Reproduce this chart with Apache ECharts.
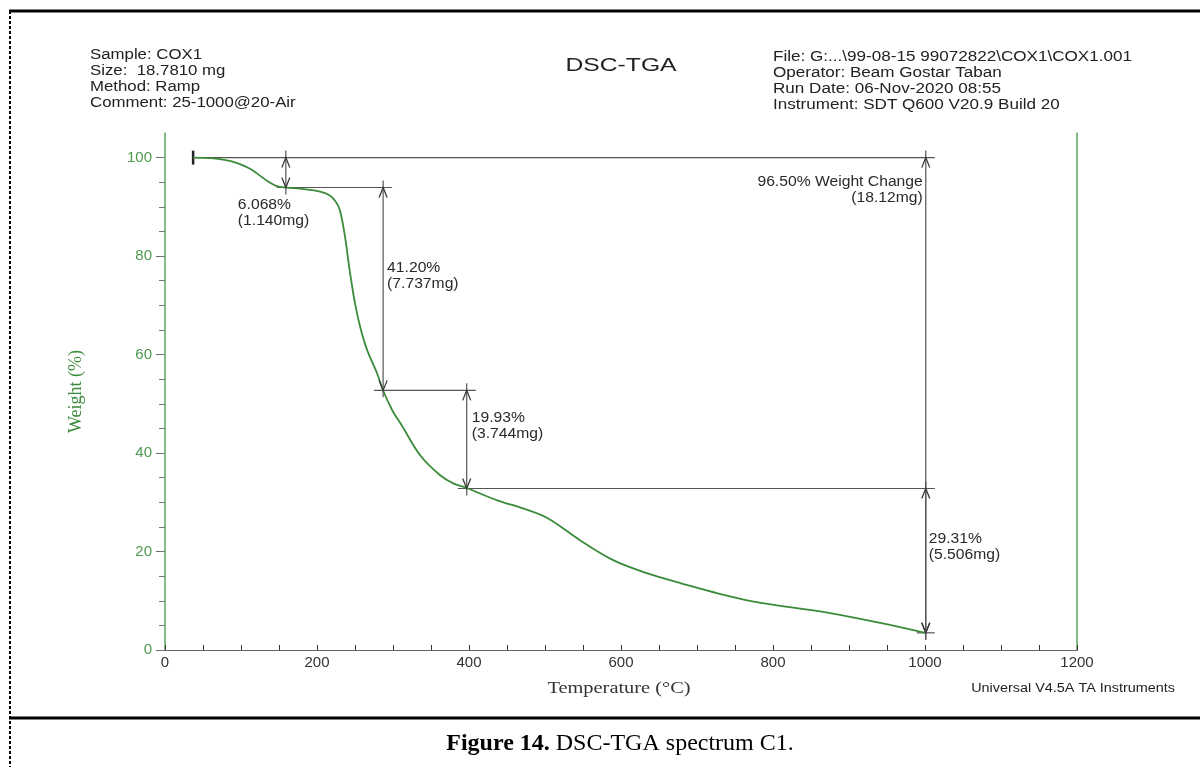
<!DOCTYPE html>
<html>
<head>
<meta charset="utf-8">
<script src="https://cdn.jsdelivr.net/npm/echarts@6.0.0/dist/echarts.min.js"></script>
<style>
html,body{margin:0;padding:0;background:#fff;}
#chart{width:1200px;height:767px;}
</style>
</head>
<body>
<div id="chart"></div>
<script>
// ---- data ----
const temperature = [37, 60, 80, 95, 110, 121, 135, 147, 160, 178, 204, 216, 224, 230, 237, 243, 250, 257, 266, 279, 287, 299, 312, 336, 362, 380, 397, 437, 470, 503, 546, 589, 634, 678, 766, 875, 941, 1000];
const weight = [100, 99.9, 99.5, 98.9, 97.9, 96.8, 95.2, 94.2, 93.9, 93.7, 93.1, 92.4, 91.2, 89.4, 83.8, 77.1, 70.4, 65.5, 60.9, 56.2, 52.7, 48.7, 45.5, 39.5, 35.5, 33.8, 32.9, 30.4, 28.8, 26.8, 22.3, 18.3, 15.6, 13.6, 10.1, 7.5, 5.5, 3.5];

const xTickValues = [0, 200, 400, 600, 800, 1000, 1200];
const yLabelValues = [0, 20, 40, 60, 80, 100];
const yTickValues = [0, 5, 10, 15, 20, 25, 30, 35, 40, 45, 50, 55, 60, 65, 70, 75, 80, 85, 90, 95, 100];

// step annotations (dimension arrows)
const dimT = [159, 287, 397, 1001, 1001];
const dimTop = [100, 93.93, 52.73, 100, 32.80];
const dimBottom = [93.93, 52.73, 32.80, 3.49, 3.49];
const dimText = ['6.068%\n(1.140mg)', '41.20%\n(7.737mg)', '19.93%\n(3.744mg)', '96.50% Weight Change\n(18.12mg)', '29.31%\n(5.506mg)'];

// horizontal level lines
const levelY = [100, 93.93, 52.73, 32.80, 3.49];
const levelFrom = [37, 159, 287, 397, 1001];
const levelTo = [1001, 287, 397, 1001, 1001];

const headerLeft = ['Sample: COX1', 'Size:  18.7810 mg', 'Method: Ramp', 'Comment: 25-1000@20-Air'];
const headerRight = ['File: G:...\\99-08-15 99072822\\COX1\\COX1.001', 'Operator: Beam Gostar Taban', 'Run Date: 06-Nov-2020 08:55', 'Instrument: SDT Q600 V20.9 Build 20'];

// ---- layout / style config ----
const SANS = '"Liberation Sans", Arial, sans-serif';
const SERIF = '"Liberation Serif", "Times New Roman", serif';
const GREEN = '#3b8b3b';
const AXIS_GREEN = '#5aa55a';
const ANN = '#3a3a3a';
// label placement relative to the arrow: [dx, dy from top level, align]
const dimLabelPos = [[-48, 40, 'left'], [4, 73, 'left'], [5, 20, 'left'], [-3, 17, 'right'], [3, 43, 'left']];
const levelExtLeft = [0, 9, 9, 9, 9];
const levelExtRight = [9, 9, 9, 9, 9];

const curveData = temperature.map((t, i) => [t, weight[i]]);
const dimData = dimT.map((t, i) => [t, dimTop[i], dimBottom[i], i]);
const levelData = levelY.map((y, i) => [levelFrom[i], levelTo[i], y, i]);

const chart = echarts.init(document.getElementById('chart'));

const headerGraphics = [];
headerLeft.forEach((s, i) => headerGraphics.push({
  type: 'text', x: 90, y: 48 + i * 16, scaleX: 1.2,
  style: { text: s, font: '14px ' + SANS, fill: '#222', align: 'left', verticalAlign: 'top' }
}));
headerRight.forEach((s, i) => headerGraphics.push({
  type: 'text', x: 773, y: 50 + i * 16, scaleX: 1.22,
  style: { text: s, font: '14px ' + SANS, fill: '#222', align: 'left', verticalAlign: 'top' }
}));

const option = {
  backgroundColor: '#fff',
  animation: false,
  grid: { left: 165, right: 123, top: 133, bottom: 117 },
  xAxis: [{
    type: 'value', min: 0, max: 1200, interval: 200,
    axisLine: { lineStyle: { color: '#333', width: 1.2 } },
    axisTick: { inside: true, length: 5, lineStyle: { color: '#333' } },
    minorTick: { show: true, splitNumber: 4, length: 5, lineStyle: { color: '#333' } },
    axisLabel: { fontFamily: SANS, fontSize: 15, color: '#333', margin: 5,
      formatter: v => xTickValues.indexOf(v) >= 0 ? String(v) : '' },
    splitLine: { show: false }
  }, {
    type: 'value', position: 'top', min: 0, max: 1200,
    axisLine: { lineStyle: { color: '#666', width: 1.2 } },
    axisTick: { show: false }, axisLabel: { show: false }, splitLine: { show: false }
  }],
  yAxis: [{
    type: 'value', min: 0, max: 105,
    name: 'Weight (%)', nameLocation: 'middle', nameGap: 80, nameRotate: 90,
    nameTextStyle: { fontFamily: SERIF, fontSize: 18, color: GREEN },
    axisLine: { lineStyle: { color: AXIS_GREEN, width: 1.5 } },
    axisTick: { length: 9, customValues: yLabelValues, lineStyle: { color: '#666' } },
    axisLabel: { customValues: yLabelValues, fontFamily: SANS, fontSize: 15, color: '#4e9a4e', margin: 13 },
    splitLine: { show: false }
  }, {
    type: 'value', min: 0, max: 105, position: 'left',
    axisLine: { show: false },
    axisTick: { length: 6, customValues: yTickValues, lineStyle: { color: '#777' } },
    axisLabel: { show: false }, splitLine: { show: false }
  }, {
    type: 'value', min: 0, max: 105, position: 'right',
    axisLine: { show: true, lineStyle: { color: AXIS_GREEN, width: 1.5 } },
    axisTick: { show: false }, axisLabel: { show: false }, splitLine: { show: false }
  }],
  series: [{
    type: 'line', data: curveData, showSymbol: false, smooth: 0.35,
    lineStyle: { color: GREEN, width: 1.8 }, z: 5
  }, {
    type: 'custom', data: levelData, clip: false, z: 4,
    renderItem: (params, api) => {
      const i = api.value(3);
      const a = api.coord([api.value(0), api.value(2)]);
      const b = api.coord([api.value(1), api.value(2)]);
      const children = [{
        type: 'line',
        shape: { x1: a[0] - levelExtLeft[i], y1: a[1], x2: b[0] + levelExtRight[i], y2: b[1] },
        style: { stroke: '#555', lineWidth: 1.2 }
      }];
      if (i === 0) {
        children.push({ type: 'line', shape: { x1: a[0], y1: a[1] - 7, x2: a[0], y2: a[1] + 7 },
          style: { stroke: '#222', lineWidth: 2.5 } });
      }
      return { type: 'group', children };
    }
  }, {
    type: 'custom', data: dimData, clip: false, z: 6,
    renderItem: (params, api) => {
      const i = api.value(3);
      const p1 = api.coord([api.value(0), api.value(1)]);
      const p2 = api.coord([api.value(0), api.value(2)]);
      const x = p1[0];
      const lp = dimLabelPos[i];
      return {
        type: 'group',
        children: [
          { type: 'line', shape: { x1: x, y1: p1[1] - 7, x2: x, y2: p2[1] + 7 }, style: { stroke: '#555', lineWidth: 1.2 } },
          { type: 'polyline', shape: { points: [[x - 4, p1[1] + 10], [x, p1[1]], [x + 4, p1[1] + 10]] }, style: { stroke: ANN, lineWidth: 1.3, fill: null } },
          { type: 'polyline', shape: { points: [[x - 4, p2[1] - 10], [x, p2[1]], [x + 4, p2[1] - 10]] }, style: { stroke: ANN, lineWidth: 1.3, fill: null } },
          { type: 'text', x: x + lp[0], y: p1[1] + lp[1], scaleX: 1.12,
            style: { text: dimText[i], font: '14px ' + SANS, fill: '#2a2a2a', align: lp[2], verticalAlign: 'top', lineHeight: 16 } }
        ]
      };
    }
  }],
  graphic: [
    { type: 'line', shape: { x1: 9, y1: 11, x2: 1200, y2: 11 }, style: { stroke: '#000', lineWidth: 3 } },
    { type: 'line', shape: { x1: 9, y1: 718, x2: 1200, y2: 718 }, style: { stroke: '#000', lineWidth: 3 } },
    { type: 'line', shape: { x1: 10, y1: 11, x2: 10, y2: 767 }, style: { stroke: '#000', lineWidth: 2, lineDash: [3, 2] } },
    { type: 'text', x: 621, y: 56, scaleX: 1.3,
      style: { text: 'DSC-TGA', font: '19px ' + SANS, fill: '#222', align: 'center', verticalAlign: 'top' } },
    { type: 'text', x: 619, y: 680, scaleX: 1.2,
      style: { text: 'Temperature (\u00B0C)', font: '17px ' + SERIF, fill: '#333', align: 'center', verticalAlign: 'top' } },
    { type: 'text', x: 1175, y: 683, scaleX: 1.2,
      style: { text: 'Universal V4.5A TA Instruments', font: '12px ' + SANS, fill: '#222', align: 'right', verticalAlign: 'top' } },
    { type: 'text', x: 620, y: 732,
      style: { text: '{b|Figure 14.} DSC-TGA spectrum C1.', font: '24px ' + SERIF, fill: '#000', align: 'center', verticalAlign: 'top',
        rich: { b: { fontFamily: SERIF, fontSize: 24, fontWeight: 'bold', fill: '#000' } } } }
  ].concat(headerGraphics)
};
chart.setOption(option);
</script>
</body>
</html>
